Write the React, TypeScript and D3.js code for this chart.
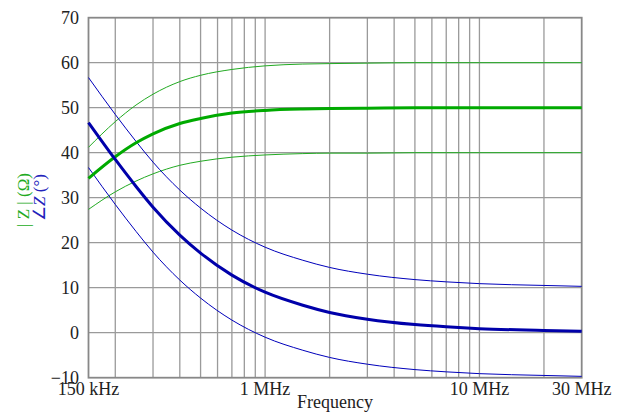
import React, { useEffect, useRef } from 'react';
import * as d3 from 'd3';

const freqs = [150e3, 200e3, 250e3, 300e3, 400e3, 500e3, 700e3, 1e6, 1.5e6, 2e6, 3e6, 5e6, 7e6, 10e6, 20e6, 30e6];

// |Z| in ohms
const zNom = [34.3, 39.1, 42.2, 44.2, 46.5, 47.6, 48.8, 49.4, 49.7, 49.8, 49.9, 50.0, 50.0, 50.0, 50.0, 50.0];
const zHigh = [41.2, 46.9, 50.6, 53.0, 55.8, 57.2, 58.5, 59.3, 59.7, 59.8, 59.9, 60.0, 60.0, 60.0, 60.0, 60.0];
const zLow = [27.4, 31.3, 33.7, 35.3, 37.2, 38.1, 39.0, 39.5, 39.8, 39.9, 39.9, 40.0, 40.0, 40.0, 40.0, 40.0];

// phase in degrees
const phNom = [46.7, 38.5, 32.5, 27.9, 21.7, 17.7, 12.8, 9.0, 6.1, 4.5, 3.0, 1.8, 1.3, 0.9, 0.5, 0.3];
const phHigh = [56.7, 48.5, 42.5, 37.9, 31.7, 27.7, 22.8, 19.0, 16.1, 14.5, 13.0, 11.8, 11.3, 10.9, 10.5, 10.3];
const phLow = [36.7, 28.5, 22.5, 17.9, 11.7, 7.7, 2.8, -1.0, -3.9, -5.5, -7.0, -8.2, -8.7, -9.1, -9.5, -9.7];

const gridFreqs = [200e3, 300e3, 400e3, 500e3, 600e3, 700e3, 800e3, 900e3, 1e6, 2e6, 3e6, 4e6, 5e6, 6e6, 7e6, 8e6, 9e6, 10e6, 20e6];
const xTicks = [150e3, 1e6, 10e6, 30e6];
const xTickLabels = ['150 kHz', '1 MHz', '10 MHz', '30 MHz'];
const yTicks = [-10, 0, 10, 20, 30, 40, 50, 60, 70];

const App = () => {
    const ref = useRef<SVGSVGElement>(null);

    useEffect(() => {
        const width = 625;
        const height = 412;
        const left = 88.5, right = 581.7, top = 17.7, bottom = 377.7;

        const svg = d3.select(ref.current);
        svg.selectAll('*').remove();

        const x = d3.scaleLog().domain([150e3, 30e6]).range([left, right]);
        const y = d3.scaleLinear().domain([-10, 70]).range([bottom, top]);

        const font = '"Liberation Serif", "Times New Roman", serif';

        // grid
        const grid = svg.append('g');
        grid.selectAll('line.v')
            .data(gridFreqs)
            .join('line')
            .attr('x1', d => x(d)).attr('x2', d => x(d))
            .attr('y1', top).attr('y2', bottom)
            .attr('stroke', '#9a9a9a')
            .attr('stroke-width', 1.3);
        grid.selectAll('line.h')
            .data(yTicks.slice(1, -1))
            .join('line')
            .attr('x1', left).attr('x2', right)
            .attr('y1', d => y(d)).attr('y2', d => y(d))
            .attr('stroke', '#9a9a9a')
            .attr('stroke-width', 1.3);

        svg.append('rect')
            .attr('x', left).attr('y', top)
            .attr('width', right - left).attr('height', bottom - top)
            .attr('fill', 'none')
            .attr('stroke', '#888')
            .attr('stroke-width', 1.8);

        const line = (vals: number[]) => d3.line<number>()
            .x((_, i) => x(freqs[i]))
            .y(d => y(d))
            .curve(d3.curveMonotoneX)(vals);

        const curves = [
            { v: zHigh, c: '#22aa22', w: 1 },
            { v: zLow, c: '#22aa22', w: 1 },
            { v: phHigh, c: '#0000bb', w: 1 },
            { v: phLow, c: '#0000bb', w: 1 },
            { v: zNom, c: '#00aa00', w: 3 },
            { v: phNom, c: '#0000aa', w: 3 },
        ];
        svg.append('g').selectAll('path')
            .data(curves)
            .join('path')
            .attr('d', d => line(d.v))
            .attr('fill', 'none')
            .attr('stroke', d => d.c)
            .attr('stroke-width', d => d.w);

        // y tick labels
        svg.append('g').selectAll('text')
            .data(yTicks)
            .join('text')
            .attr('x', 79)
            .attr('y', d => y(d) + 6)
            .attr('text-anchor', 'end')
            .attr('font-family', font)
            .attr('font-size', 18)
            .attr('fill', '#222')
            .text(d => d < 0 ? '\u2212' + Math.abs(d) : String(d));

        // x tick labels
        svg.append('g').selectAll('text')
            .data(xTicks)
            .join('text')
            .attr('x', d => x(d))
            .attr('y', 395)
            .attr('text-anchor', 'middle')
            .attr('font-family', font)
            .attr('font-size', 18)
            .attr('fill', '#222')
            .text((_, i) => xTickLabels[i]);

        svg.append('text')
            .attr('x', (left + right) / 2)
            .attr('y', 408)
            .attr('text-anchor', 'middle')
            .attr('font-family', font)
            .attr('font-size', 18)
            .attr('fill', '#222')
            .text('Frequency');

        // y axis labels
        svg.append('text')
            .attr('transform', 'translate(29,200) rotate(-90)')
            .attr('text-anchor', 'middle')
            .attr('font-family', font)
            .attr('font-size', 17)
            .attr('fill', '#22aa22')
            .text('| Z | (\u03a9)');
        svg.append('text')
            .attr('transform', 'translate(45,197.5) rotate(-90)')
            .attr('text-anchor', 'middle')
            .attr('font-family', font)
            .attr('font-size', 17)
            .attr('fill', '#2222bb')
            .html('\u2220<tspan font-style="italic">Z</tspan> (\u00b0)');

        svg.attr('width', width).attr('height', height);
    }, []);

    return (
        <svg ref={ref} width={625} height={412}
            style={{ position: 'absolute', left: 0, top: 0, background: '#fff' }}></svg>
    );
};

export default App;
